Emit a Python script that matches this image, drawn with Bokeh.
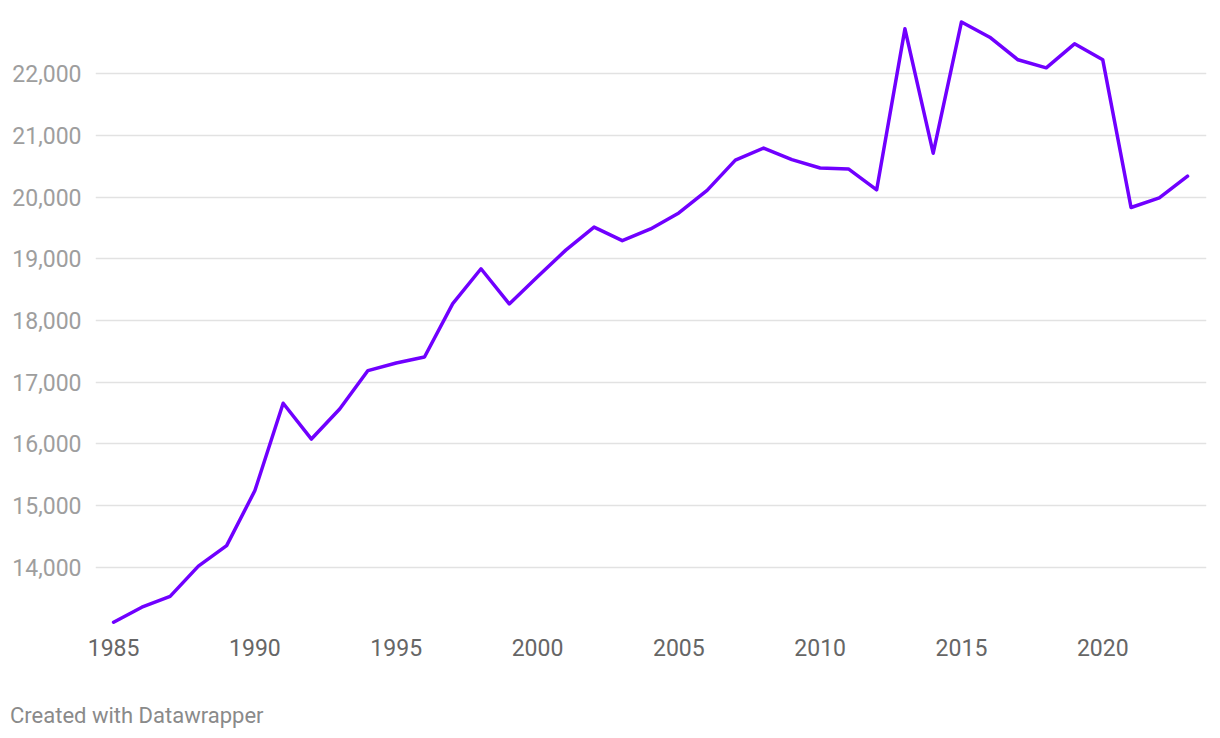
from bokeh.plotting import figure
from bokeh.models import Range1d, FixedTicker, NumeralTickFormatter, Div, ColumnDataSource
from bokeh.layouts import column
from bokeh.embed import file_html
from bokeh.resources import INLINE

years = list(range(1985, 2024))
values = [13110, 13355, 13530, 14020, 14352, 15245, 16660, 16080, 16567, 17190,
          17313, 17410, 18275, 18840, 18270, 18710, 19142, 19515, 19295, 19485,
          19745, 20110, 20600, 20797, 20608, 20474, 20458, 20120, 22729, 20713,
          22840, 22593, 22227, 22097, 22486, 22227, 19833, 19990, 20340]
x_ticks = [1985, 1990, 1995, 2000, 2005, 2010, 2015, 2020]
y_ticks = [14000, 15000, 16000, 17000, 18000, 19000, 20000, 21000, 22000]

FONT = "Roboto"

p = figure(width=1212, height=676, output_backend="svg", toolbar_location=None,
           x_range=Range1d(1984.36, 2023.67), y_range=Range1d(12977, 23026),
           min_border_left=95, min_border_right=6, min_border_top=10, min_border_bottom=46)
p.outline_line_color = None
p.background_fill_color = "white"
p.border_fill_color = "white"

src = ColumnDataSource(dict(x=years, y=values))
p.line("x", "y", source=src, line_color="#7000ff", line_width=3.5, line_join="round", line_cap="round")

p.xgrid.grid_line_color = None
p.ygrid.grid_line_color = "#e2e2e2"
p.ygrid.grid_line_width = 1.3

p.xaxis.ticker = FixedTicker(ticks=x_ticks)
p.yaxis.ticker = FixedTicker(ticks=y_ticks)
p.yaxis.formatter = NumeralTickFormatter(format="0,0")
for ax in (p.xaxis, p.yaxis):
    ax.axis_line_color = None
    ax.major_tick_line_color = None
    ax.minor_tick_line_color = None
    ax.major_tick_out = 0
    ax.major_tick_in = 0
    ax.major_label_text_font = FONT
    ax.major_label_text_font_size = "23px"
p.xaxis.major_label_text_color = "#666666"
p.yaxis.major_label_text_color = "#9e9e9e"
p.xaxis.major_label_standoff = 8
p.yaxis.major_label_standoff = 14

footer = Div(text="Created with Datawrapper", width=600, height=40,
             margin=(27, 0, 0, 10),
             styles={"font-family": FONT, "font-size": "22px", "color": "#8a8a8a", "line-height": "26px"})

layout = column(p, footer, spacing=0)
open("out.html", "w").write(file_html(layout, INLINE))
